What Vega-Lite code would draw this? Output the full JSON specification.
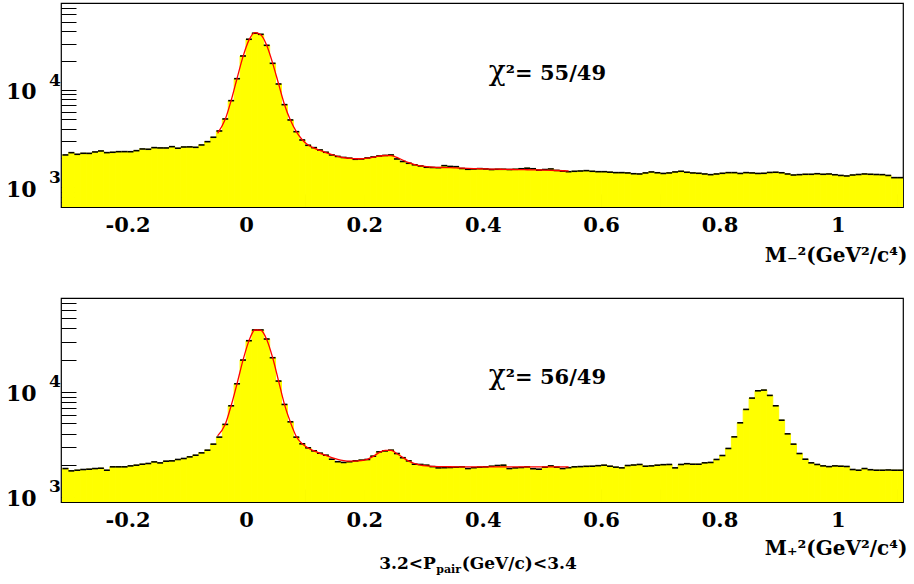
{
  "$schema": "https://vega.github.io/schema/vega-lite/v6.json",
  "background": "white",
  "padding": {"left": 4, "top": -2, "right": 4, "bottom": 4},
  "bounds": "flush",
  "spacing": 91,
  "config": {
    "view": {"stroke": "black", "strokeWidth": 1.2},
    "axis": {"domain": false, "grid": false, "labelColor": "black", "tickColor": "black", "titleColor": "black", "labelFont": "DejaVu Serif", "labelFontWeight": "bold", "titleFont": "DejaVu Serif", "titleFontWeight": "bold", "labelOverlap": false, "labelFlush": false},
    "text": {"font": "DejaVu Serif", "fontWeight": "bold", "color": "black"}
  },
  "datasets": {
    "neg": [
      {"lo":-0.31,"hi":-0.30,"n":2149},{"lo":-0.30,"hi":-0.29,"n":2268},{"lo":-0.29,"hi":-0.28,"n":2183},{"lo":-0.28,"hi":-0.27,"n":2234},
      {"lo":-0.27,"hi":-0.26,"n":2230},{"lo":-0.26,"hi":-0.25,"n":2306},{"lo":-0.25,"hi":-0.24,"n":2361},{"lo":-0.24,"hi":-0.23,"n":2270},
      {"lo":-0.23,"hi":-0.22,"n":2290},{"lo":-0.22,"hi":-0.21,"n":2322},{"lo":-0.21,"hi":-0.20,"n":2325},{"lo":-0.20,"hi":-0.19,"n":2320},
      {"lo":-0.19,"hi":-0.18,"n":2378},{"lo":-0.18,"hi":-0.17,"n":2476},{"lo":-0.17,"hi":-0.16,"n":2459},{"lo":-0.16,"hi":-0.15,"n":2555},
      {"lo":-0.15,"hi":-0.14,"n":2537},{"lo":-0.14,"hi":-0.13,"n":2535},{"lo":-0.13,"hi":-0.12,"n":2614},{"lo":-0.12,"hi":-0.11,"n":2520},
      {"lo":-0.11,"hi":-0.10,"n":2594},{"lo":-0.10,"hi":-0.09,"n":2600},{"lo":-0.09,"hi":-0.08,"n":2575},{"lo":-0.08,"hi":-0.07,"n":2722},
      {"lo":-0.07,"hi":-0.06,"n":2943},{"lo":-0.06,"hi":-0.05,"n":3267},{"lo":-0.05,"hi":-0.04,"n":3790},{"lo":-0.04,"hi":-0.03,"n":5035},
      {"lo":-0.03,"hi":-0.02,"n":7765},{"lo":-0.02,"hi":-0.01,"n":13060},{"lo":-0.01,"hi":0.00,"n":22350},{"lo":0.00,"hi":0.01,"n":33200},
      {"lo":0.01,"hi":0.02,"n":38280},{"lo":0.02,"hi":0.03,"n":37330},{"lo":0.03,"hi":0.04,"n":28770},{"lo":0.04,"hi":0.05,"n":18790},
      {"lo":0.05,"hi":0.06,"n":11520},{"lo":0.06,"hi":0.07,"n":7065},{"lo":0.07,"hi":0.08,"n":4919},{"lo":0.08,"hi":0.09,"n":3727},
      {"lo":0.09,"hi":0.10,"n":3062},{"lo":0.10,"hi":0.11,"n":2701},{"lo":0.11,"hi":0.12,"n":2555},{"lo":0.12,"hi":0.13,"n":2418},
      {"lo":0.13,"hi":0.14,"n":2290},{"lo":0.14,"hi":0.15,"n":2149},{"lo":0.15,"hi":0.16,"n":2075},{"lo":0.16,"hi":0.17,"n":2025},
      {"lo":0.17,"hi":0.18,"n":1990},{"lo":0.18,"hi":0.19,"n":1940},{"lo":0.19,"hi":0.20,"n":1954},{"lo":0.20,"hi":0.21,"n":2001},
      {"lo":0.21,"hi":0.22,"n":2047},{"lo":0.22,"hi":0.23,"n":2098},{"lo":0.23,"hi":0.24,"n":2124},{"lo":0.24,"hi":0.25,"n":2149},
      {"lo":0.25,"hi":0.26,"n":1954},{"lo":0.26,"hi":0.27,"n":1841},{"lo":0.27,"hi":0.28,"n":1765},{"lo":0.28,"hi":0.29,"n":1703},
      {"lo":0.29,"hi":0.30,"n":1656},{"lo":0.30,"hi":0.31,"n":1606},{"lo":0.31,"hi":0.32,"n":1598},{"lo":0.32,"hi":0.33,"n":1590},
      {"lo":0.33,"hi":0.34,"n":1668},{"lo":0.34,"hi":0.35,"n":1637},{"lo":0.35,"hi":0.36,"n":1628},{"lo":0.36,"hi":0.37,"n":1560},
      {"lo":0.37,"hi":0.38,"n":1531},{"lo":0.38,"hi":0.39,"n":1542},{"lo":0.39,"hi":0.40,"n":1555},{"lo":0.40,"hi":0.41,"n":1542},
      {"lo":0.41,"hi":0.42,"n":1522},{"lo":0.42,"hi":0.43,"n":1531},{"lo":0.43,"hi":0.44,"n":1531},{"lo":0.44,"hi":0.45,"n":1522},
      {"lo":0.45,"hi":0.46,"n":1531},{"lo":0.46,"hi":0.47,"n":1550},{"lo":0.47,"hi":0.48,"n":1570},{"lo":0.48,"hi":0.49,"n":1550},
      {"lo":0.49,"hi":0.50,"n":1500},{"lo":0.50,"hi":0.51,"n":1522},{"lo":0.51,"hi":0.52,"n":1542},{"lo":0.52,"hi":0.53,"n":1490},
      {"lo":0.53,"hi":0.54,"n":1465},{"lo":0.54,"hi":0.55,"n":1446},{"lo":0.55,"hi":0.56,"n":1460},{"lo":0.56,"hi":0.57,"n":1470},
      {"lo":0.57,"hi":0.58,"n":1482},{"lo":0.58,"hi":0.59,"n":1460},{"lo":0.59,"hi":0.60,"n":1446},{"lo":0.60,"hi":0.61,"n":1446},
      {"lo":0.61,"hi":0.62,"n":1430},{"lo":0.62,"hi":0.63,"n":1414},{"lo":0.63,"hi":0.64,"n":1414},{"lo":0.64,"hi":0.65,"n":1404},
      {"lo":0.65,"hi":0.66,"n":1378},{"lo":0.66,"hi":0.67,"n":1370},{"lo":0.67,"hi":0.68,"n":1404},{"lo":0.68,"hi":0.69,"n":1437},
      {"lo":0.69,"hi":0.70,"n":1410},{"lo":0.70,"hi":0.71,"n":1387},{"lo":0.71,"hi":0.72,"n":1404},{"lo":0.72,"hi":0.73,"n":1437},
      {"lo":0.73,"hi":0.74,"n":1460},{"lo":0.74,"hi":0.75,"n":1427},{"lo":0.75,"hi":0.76,"n":1404},{"lo":0.76,"hi":0.77,"n":1392},
      {"lo":0.77,"hi":0.78,"n":1370},{"lo":0.78,"hi":0.79,"n":1348},{"lo":0.79,"hi":0.80,"n":1370},{"lo":0.80,"hi":0.81,"n":1392},
      {"lo":0.81,"hi":0.82,"n":1414},{"lo":0.82,"hi":0.83,"n":1414},{"lo":0.83,"hi":0.84,"n":1387},{"lo":0.84,"hi":0.85,"n":1414},
      {"lo":0.85,"hi":0.86,"n":1404},{"lo":0.86,"hi":0.87,"n":1387},{"lo":0.87,"hi":0.88,"n":1392},{"lo":0.88,"hi":0.89,"n":1420},
      {"lo":0.89,"hi":0.90,"n":1427},{"lo":0.90,"hi":0.91,"n":1410},{"lo":0.91,"hi":0.92,"n":1370},{"lo":0.92,"hi":0.93,"n":1337},
      {"lo":0.93,"hi":0.94,"n":1348},{"lo":0.94,"hi":0.95,"n":1360},{"lo":0.95,"hi":0.96,"n":1360},{"lo":0.96,"hi":0.97,"n":1378},
      {"lo":0.97,"hi":0.98,"n":1360},{"lo":0.98,"hi":0.99,"n":1370},{"lo":0.99,"hi":1.00,"n":1345},{"lo":1.00,"hi":1.01,"n":1323},
      {"lo":1.01,"hi":1.02,"n":1307},{"lo":1.02,"hi":1.03,"n":1337},{"lo":1.03,"hi":1.04,"n":1353},{"lo":1.04,"hi":1.05,"n":1370},
      {"lo":1.05,"hi":1.06,"n":1360},{"lo":1.06,"hi":1.07,"n":1353},{"lo":1.07,"hi":1.08,"n":1348},{"lo":1.08,"hi":1.09,"n":1323},
      {"lo":1.09,"hi":1.10,"n":1256},{"lo":1.10,"hi":1.11,"n":1256}
    ],
    "negFit": [
      {"m":-0.048,"f":3590},{"m":-0.035,"f":5000},{"m":-0.025,"f":7800},{"m":-0.015,"f":13200},{"m":-0.005,"f":22000},
      {"m":0.005,"f":32500},{"m":0.015,"f":38900},{"m":0.025,"f":37000},{"m":0.035,"f":28800},{"m":0.045,"f":18900},
      {"m":0.055,"f":11600},{"m":0.065,"f":7100},{"m":0.075,"f":4900},{"m":0.085,"f":3730},{"m":0.095,"f":3080},
      {"m":0.105,"f":2720},{"m":0.115,"f":2520},{"m":0.125,"f":2390},{"m":0.135,"f":2270},{"m":0.145,"f":2170},
      {"m":0.155,"f":2080},{"m":0.165,"f":2020},{"m":0.175,"f":1985},{"m":0.185,"f":1965},{"m":0.195,"f":1965},
      {"m":0.205,"f":1990},{"m":0.215,"f":2040},{"m":0.225,"f":2090},{"m":0.235,"f":2120},{"m":0.245,"f":2110},
      {"m":0.255,"f":2030},{"m":0.265,"f":1900},{"m":0.275,"f":1790},{"m":0.285,"f":1710},{"m":0.295,"f":1660},
      {"m":0.305,"f":1630},{"m":0.315,"f":1610},{"m":0.325,"f":1600},{"m":0.335,"f":1595},{"m":0.345,"f":1590},
      {"m":0.355,"f":1580},{"m":0.365,"f":1570},{"m":0.375,"f":1562},{"m":0.385,"f":1555},{"m":0.395,"f":1550},
      {"m":0.405,"f":1545},{"m":0.415,"f":1540},{"m":0.425,"f":1535},{"m":0.435,"f":1530},{"m":0.445,"f":1525},
      {"m":0.455,"f":1521},{"m":0.465,"f":1517},{"m":0.475,"f":1513},{"m":0.485,"f":1509},{"m":0.495,"f":1505},
      {"m":0.505,"f":1500},{"m":0.515,"f":1494},{"m":0.525,"f":1487},{"m":0.535,"f":1479},{"m":0.545,"f":1470}
    ],
    "pos": [
      {"lo":-0.31,"hi":-0.30,"n":1862},{"lo":-0.30,"hi":-0.29,"n":1770},{"lo":-0.29,"hi":-0.28,"n":1795},{"lo":-0.28,"hi":-0.27,"n":1823},
      {"lo":-0.27,"hi":-0.26,"n":1836},{"lo":-0.26,"hi":-0.25,"n":1862},{"lo":-0.25,"hi":-0.24,"n":1875},{"lo":-0.24,"hi":-0.23,"n":1795},
      {"lo":-0.23,"hi":-0.22,"n":1933},{"lo":-0.22,"hi":-0.21,"n":1933},{"lo":-0.21,"hi":-0.20,"n":1933},{"lo":-0.20,"hi":-0.19,"n":1974},
      {"lo":-0.19,"hi":-0.18,"n":2005},{"lo":-0.18,"hi":-0.17,"n":2047},{"lo":-0.17,"hi":-0.16,"n":2080},{"lo":-0.16,"hi":-0.15,"n":2154},
      {"lo":-0.15,"hi":-0.14,"n":2107},{"lo":-0.14,"hi":-0.13,"n":2188},{"lo":-0.13,"hi":-0.12,"n":2203},{"lo":-0.12,"hi":-0.11,"n":2271},
      {"lo":-0.11,"hi":-0.10,"n":2321},{"lo":-0.10,"hi":-0.09,"n":2405},{"lo":-0.09,"hi":-0.08,"n":2495},{"lo":-0.08,"hi":-0.07,"n":2625},
      {"lo":-0.07,"hi":-0.06,"n":2785},{"lo":-0.06,"hi":-0.05,"n":3178},{"lo":-0.05,"hi":-0.04,"n":3705},{"lo":-0.04,"hi":-0.03,"n":4897},
      {"lo":-0.03,"hi":-0.02,"n":7360},{"lo":-0.02,"hi":-0.01,"n":11920},{"lo":-0.01,"hi":0.00,"n":20040},{"lo":0.00,"hi":0.01,"n":30610},
      {"lo":0.01,"hi":0.02,"n":38730},{"lo":0.02,"hi":0.03,"n":38730},{"lo":0.03,"hi":0.04,"n":31770},{"lo":0.04,"hi":0.05,"n":21090},
      {"lo":0.05,"hi":0.06,"n":12650},{"lo":0.06,"hi":0.07,"n":7580},{"lo":0.07,"hi":0.08,"n":5180},{"lo":0.08,"hi":0.09,"n":3705},
      {"lo":0.09,"hi":0.10,"n":3201},{"lo":0.10,"hi":0.11,"n":2931},{"lo":0.11,"hi":0.12,"n":2744},{"lo":0.12,"hi":0.13,"n":2607},
      {"lo":0.13,"hi":0.14,"n":2495},{"lo":0.14,"hi":0.15,"n":2285},{"lo":0.15,"hi":0.16,"n":2163},{"lo":0.16,"hi":0.17,"n":2128},
      {"lo":0.17,"hi":0.18,"n":2163},{"lo":0.18,"hi":0.19,"n":2203},{"lo":0.19,"hi":0.20,"n":2239},{"lo":0.20,"hi":0.21,"n":2271},
      {"lo":0.21,"hi":0.22,"n":2442},{"lo":0.22,"hi":0.23,"n":2683},{"lo":0.23,"hi":0.24,"n":2740},{"lo":0.24,"hi":0.25,"n":2785},
      {"lo":0.25,"hi":0.26,"n":2588},{"lo":0.26,"hi":0.27,"n":2361},{"lo":0.27,"hi":0.28,"n":2203},{"lo":0.28,"hi":0.29,"n":2047},
      {"lo":0.29,"hi":0.30,"n":2036},{"lo":0.30,"hi":0.31,"n":2005},{"lo":0.31,"hi":0.32,"n":1943},{"lo":0.32,"hi":0.33,"n":1890},
      {"lo":0.33,"hi":0.34,"n":1898},{"lo":0.34,"hi":0.35,"n":1906},{"lo":0.35,"hi":0.36,"n":1920},{"lo":0.36,"hi":0.37,"n":1933},
      {"lo":0.37,"hi":0.38,"n":1862},{"lo":0.38,"hi":0.39,"n":1898},{"lo":0.39,"hi":0.40,"n":1920},{"lo":0.40,"hi":0.41,"n":1933},
      {"lo":0.41,"hi":0.42,"n":1960},{"lo":0.42,"hi":0.43,"n":1990},{"lo":0.43,"hi":0.44,"n":2005},{"lo":0.44,"hi":0.45,"n":1862},
      {"lo":0.45,"hi":0.46,"n":1890},{"lo":0.46,"hi":0.47,"n":1906},{"lo":0.47,"hi":0.48,"n":1933},{"lo":0.48,"hi":0.49,"n":1855},
      {"lo":0.49,"hi":0.50,"n":1836},{"lo":0.50,"hi":0.51,"n":1920},{"lo":0.51,"hi":0.52,"n":1974},{"lo":0.52,"hi":0.53,"n":1920},
      {"lo":0.53,"hi":0.54,"n":1862},{"lo":0.54,"hi":0.55,"n":1898},{"lo":0.55,"hi":0.56,"n":1933},{"lo":0.56,"hi":0.57,"n":1943},
      {"lo":0.57,"hi":0.58,"n":1955},{"lo":0.58,"hi":0.59,"n":1960},{"lo":0.59,"hi":0.60,"n":1983},{"lo":0.60,"hi":0.61,"n":2005},
      {"lo":0.61,"hi":0.62,"n":1960},{"lo":0.62,"hi":0.63,"n":1920},{"lo":0.63,"hi":0.64,"n":1890},{"lo":0.64,"hi":0.65,"n":1990},
      {"lo":0.65,"hi":0.66,"n":2012},{"lo":0.66,"hi":0.67,"n":2036},{"lo":0.67,"hi":0.68,"n":1960},{"lo":0.68,"hi":0.69,"n":1974},
      {"lo":0.69,"hi":0.70,"n":2005},{"lo":0.70,"hi":0.71,"n":2027},{"lo":0.71,"hi":0.72,"n":2036},{"lo":0.72,"hi":0.73,"n":1890},
      {"lo":0.73,"hi":0.74,"n":2036},{"lo":0.74,"hi":0.75,"n":2070},{"lo":0.75,"hi":0.76,"n":2047},{"lo":0.76,"hi":0.77,"n":2047},
      {"lo":0.77,"hi":0.78,"n":2110},{"lo":0.78,"hi":0.79,"n":2128},{"lo":0.79,"hi":0.80,"n":2271},{"lo":0.80,"hi":0.81,"n":2477},
      {"lo":0.81,"hi":0.82,"n":2891},{"lo":0.82,"hi":0.83,"n":3727},{"lo":0.83,"hi":0.84,"n":5070},{"lo":0.84,"hi":0.85,"n":6800},
      {"lo":0.85,"hi":0.86,"n":8710},{"lo":0.86,"hi":0.87,"n":10220},{"lo":0.87,"hi":0.88,"n":10380},{"lo":0.88,"hi":0.89,"n":9240},
      {"lo":0.89,"hi":0.90,"n":7360},{"lo":0.90,"hi":0.91,"n":5370},{"lo":0.91,"hi":0.92,"n":3981},{"lo":0.92,"hi":0.93,"n":3178},
      {"lo":0.93,"hi":0.94,"n":2588},{"lo":0.94,"hi":0.95,"n":2285},{"lo":0.95,"hi":0.96,"n":2110},{"lo":0.96,"hi":0.97,"n":2036},
      {"lo":0.97,"hi":0.98,"n":1974},{"lo":0.98,"hi":0.99,"n":1943},{"lo":0.99,"hi":1.00,"n":1974},{"lo":1.00,"hi":1.01,"n":1960},
      {"lo":1.01,"hi":1.02,"n":1948},{"lo":1.02,"hi":1.03,"n":1823},{"lo":1.03,"hi":1.04,"n":1795},{"lo":1.04,"hi":1.05,"n":1862},
      {"lo":1.05,"hi":1.06,"n":1815},{"lo":1.06,"hi":1.07,"n":1795},{"lo":1.07,"hi":1.08,"n":1795},{"lo":1.08,"hi":1.09,"n":1805},
      {"lo":1.09,"hi":1.10,"n":1795},{"lo":1.10,"hi":1.11,"n":1795}
    ],
    "posFit": [
      {"m":-0.048,"f":3810},{"m":-0.035,"f":4900},{"m":-0.025,"f":7400},{"m":-0.015,"f":12000},{"m":-0.005,"f":20000},
      {"m":0.005,"f":30500},{"m":0.015,"f":38700},{"m":0.025,"f":38500},{"m":0.035,"f":31500},{"m":0.045,"f":21200},
      {"m":0.055,"f":12700},{"m":0.065,"f":7600},{"m":0.075,"f":5150},{"m":0.085,"f":3760},{"m":0.095,"f":3200},
      {"m":0.105,"f":2920},{"m":0.115,"f":2740},{"m":0.125,"f":2600},{"m":0.135,"f":2480},{"m":0.145,"f":2370},
      {"m":0.155,"f":2280},{"m":0.165,"f":2220},{"m":0.175,"f":2190},{"m":0.185,"f":2190},{"m":0.195,"f":2210},
      {"m":0.205,"f":2280},{"m":0.215,"f":2430},{"m":0.225,"f":2640},{"m":0.235,"f":2770},{"m":0.245,"f":2770},
      {"m":0.255,"f":2590},{"m":0.265,"f":2370},{"m":0.275,"f":2190},{"m":0.285,"f":2080},{"m":0.295,"f":2010},
      {"m":0.305,"f":1975},{"m":0.315,"f":1955},{"m":0.325,"f":1945},{"m":0.335,"f":1940},{"m":0.345,"f":1937},
      {"m":0.355,"f":1935},{"m":0.365,"f":1934},{"m":0.375,"f":1933},{"m":0.385,"f":1933},{"m":0.395,"f":1932},
      {"m":0.405,"f":1932},{"m":0.415,"f":1932},{"m":0.425,"f":1931},{"m":0.435,"f":1931},{"m":0.445,"f":1931},
      {"m":0.455,"f":1930},{"m":0.465,"f":1930},{"m":0.475,"f":1930},{"m":0.485,"f":1930},{"m":0.495,"f":1930},
      {"m":0.505,"f":1930},{"m":0.515,"f":1930},{"m":0.525,"f":1930},{"m":0.535,"f":1930},{"m":0.545,"f":1930}
    ]
  },
  "vconcat": [
    {
      "width": 842,
      "height": 204,
      "layer": [
        {
          "data": {"name": "neg"},
          "mark": {"type": "bar", "color": "#ffff00", "stroke": "#ffff00", "strokeWidth": 1, "clip": true},
          "encoding": {
            "x": {
              "field": "lo", "type": "quantitative",
              "scale": {"domain": [-0.3125, 1.11], "nice": false, "zero": false},
              "axis": {
                "values": [-0.3,-0.25,-0.2,-0.15,-0.1,-0.05,0,0.05,0.1,0.15,0.2,0.25,0.3,0.35,0.4,0.45,0.5,0.55,0.6,0.65,0.7,0.75,0.8,0.85,0.9,0.95,1,1.05,1.1],
                "tickSize": -13,
                "labelPadding": 20,
                "labelFontSize": 21,
                "labelExpr": "abs(datum.value*5 - round(datum.value*5)) < 1e-6 ? (datum.value < 0 ? '-' : '') + format(abs(datum.value), '~g') : ''",
                "title": "M₋²(GeV²/c⁴)",
                "titleFontSize": 20,
                "titleAnchor": "end",
                "titleAlign": "right",
                "titleBaseline": "alphabetic",
                "titleX": 846,
                "titleY": 54,
                "encode": {"ticks": {"update": {"y2": {"signal": "abs(datum.value*5 - round(datum.value*5)) < 1e-6 ? -13 : -6.5"}}}}
              }
            },
            "x2": {"field": "hi"},
            "y": {
              "field": "n", "type": "quantitative",
              "scale": {"type": "log", "domain": [627, 78300], "nice": false},
              "axis": {
                "values": [700,800,900,1000,2000,3000,4000,5000,6000,7000,8000,9000,10000,20000,30000,40000,50000,60000,70000],
                "title": null,
                "tickSize": -15,
                "labelPadding": 40,
                "labelFontSize": 22,
                "labelOffset": 2,
                "labelExpr": "datum.value == 1000 || datum.value == 10000 ? '10' : ''",
                "encode": {"ticks": {"update": {"x2": {"signal": "(datum.value == 1000 || datum.value == 10000) ? 15 : 7.5"}}}}
              }
            },
            "y2": {"datum": 100}
          }
        },
        {
          "data": {"name": "neg"},
          "mark": {"type": "rule", "color": "black", "strokeWidth": 1.6},
          "encoding": {
            "x": {"field": "lo", "type": "quantitative"},
            "x2": {"field": "hi"},
            "y": {"field": "n", "type": "quantitative"}
          }
        },
        {
          "data": {"name": "negFit"},
          "mark": {"type": "line", "color": "red", "strokeWidth": 1.3, "interpolate": "monotone"},
          "encoding": {
            "x": {"field": "m", "type": "quantitative"},
            "y": {"field": "f", "type": "quantitative"}
          }
        },
        {
          "data": {"values": [{"v": 1000, "e": "3"}, {"v": 10000, "e": "4"}]},
          "mark": {"type": "text", "align": "left", "baseline": "alphabetic", "dx": -12, "dy": -4, "fontSize": 17},
          "encoding": {
            "x": {"datum": -0.3125},
            "y": {"field": "v", "type": "quantitative"},
            "text": {"field": "e"}
          }
        },
        {
          "data": {"values": [{}]},
          "mark": {"type": "text", "text": "χ", "align": "right", "baseline": "alphabetic", "fontSize": 28, "fontWeight": "normal", "font": "DejaVu Serif"},
          "encoding": {"x": {"datum": 0.439}, "y": {"datum": 12670}}
        },
        {
          "data": {"values": [{}]},
          "mark": {"type": "text", "text": "²= 55/49", "align": "left", "baseline": "alphabetic", "fontSize": 21},
          "encoding": {"x": {"datum": 0.439}, "y": {"datum": 12670}}
        }
      ]
    },
    {
      "width": 842,
      "height": 204,
      "layer": [
        {
          "data": {"name": "pos"},
          "mark": {"type": "bar", "color": "#ffff00", "stroke": "#ffff00", "strokeWidth": 1, "clip": true},
          "encoding": {
            "x": {
              "field": "lo", "type": "quantitative",
              "scale": {"domain": [-0.3125, 1.11], "nice": false, "zero": false},
              "axis": {
                "values": [-0.3,-0.25,-0.2,-0.15,-0.1,-0.05,0,0.05,0.1,0.15,0.2,0.25,0.3,0.35,0.4,0.45,0.5,0.55,0.6,0.65,0.7,0.75,0.8,0.85,0.9,0.95,1,1.05,1.1],
                "tickSize": -13,
                "labelPadding": 20,
                "labelFontSize": 21,
                "labelExpr": "abs(datum.value*5 - round(datum.value*5)) < 1e-6 ? (datum.value < 0 ? '-' : '') + format(abs(datum.value), '~g') : ''",
                "title": "M₊²(GeV²/c⁴)",
                "titleFontSize": 20,
                "titleAnchor": "end",
                "titleAlign": "right",
                "titleBaseline": "alphabetic",
                "titleX": 846,
                "titleY": 52,
                "encode": {"ticks": {"update": {"y2": {"signal": "abs(datum.value*5 - round(datum.value*5)) < 1e-6 ? -13 : -6.5"}}}}
              }
            },
            "x2": {"field": "hi"},
            "y": {
              "field": "n", "type": "quantitative",
              "scale": {"type": "log", "domain": [895, 78000], "nice": false},
              "axis": {
                "values": [900,1000,2000,3000,4000,5000,6000,7000,8000,9000,10000,20000,30000,40000,50000,60000,70000],
                "title": null,
                "tickSize": -15,
                "labelPadding": 40,
                "labelFontSize": 22,
                "labelOffset": 2,
                "labelExpr": "datum.value == 1000 || datum.value == 10000 ? '10' : ''",
                "encode": {"ticks": {"update": {"x2": {"signal": "(datum.value == 1000 || datum.value == 10000) ? 15 : 7.5"}}}}
              }
            },
            "y2": {"datum": 100}
          }
        },
        {
          "data": {"name": "pos"},
          "mark": {"type": "rule", "color": "black", "strokeWidth": 1.6},
          "encoding": {
            "x": {"field": "lo", "type": "quantitative"},
            "x2": {"field": "hi"},
            "y": {"field": "n", "type": "quantitative"}
          }
        },
        {
          "data": {"name": "posFit"},
          "mark": {"type": "line", "color": "red", "strokeWidth": 1.3, "interpolate": "monotone"},
          "encoding": {
            "x": {"field": "m", "type": "quantitative"},
            "y": {"field": "f", "type": "quantitative"}
          }
        },
        {
          "data": {"values": [{"v": 1000, "e": "3"}, {"v": 10000, "e": "4"}]},
          "mark": {"type": "text", "align": "left", "baseline": "alphabetic", "dx": -12, "dy": -5, "fontSize": 17},
          "encoding": {
            "x": {"datum": -0.3125},
            "y": {"field": "v", "type": "quantitative"},
            "text": {"field": "e"}
          }
        },
        {
          "data": {"values": [{}]},
          "mark": {"type": "text", "text": "χ", "align": "right", "baseline": "alphabetic", "fontSize": 28, "fontWeight": "normal", "font": "DejaVu Serif"},
          "encoding": {"x": {"datum": 0.439}, "y": {"datum": 11840}}
        },
        {
          "data": {"values": [{}]},
          "mark": {"type": "text", "text": "²= 56/49", "align": "left", "baseline": "alphabetic", "fontSize": 21},
          "encoding": {"x": {"datum": 0.439}, "y": {"datum": 11840}}
        },
        {
          "data": {"values": [{}]},
          "mark": {"type": "text", "text": "3.2<P", "align": "right", "baseline": "alphabetic", "fontSize": 17},
          "encoding": {"x": {"datum": 0.3206}, "y": {"datum": 205}}
        },
        {
          "data": {"values": [{}]},
          "mark": {"type": "text", "text": "pair", "align": "left", "baseline": "alphabetic", "fontSize": 11, "dx": 0.5, "dy": 4},
          "encoding": {"x": {"datum": 0.3206}, "y": {"datum": 205}}
        },
        {
          "data": {"values": [{}]},
          "mark": {"type": "text", "text": "(GeV/c)<3.4", "align": "left", "baseline": "alphabetic", "fontSize": 17, "dx": 26},
          "encoding": {"x": {"datum": 0.3206}, "y": {"datum": 205}}
        }
      ]
    }
  ]
}
